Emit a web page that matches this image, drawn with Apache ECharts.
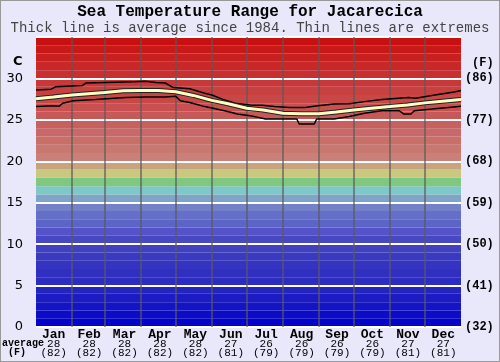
<!DOCTYPE html>
<html><head><meta charset="utf-8">
<script src="https://cdn.jsdelivr.net/npm/echarts@6/dist/echarts.min.js"></script>
<style>html,body{margin:0;padding:0;background:#e8e8fa}#c{width:500px;height:362px;box-sizing:border-box;border:1px solid #999}</style>
</head><body><div id="c"></div>
<script>
// ---- data ----
const months = ['Jan','Feb','Mar','Apr','May','Jun','Jul','Aug','Sep','Oct','Nov','Dec'];
const monthStartDays = [31,59,90,120,151,181,212,243,273,304,334];
const monthAvgC = [28,28,28,28,28,27,26,26,26,26,27,27];
const monthAvgF = [82,82,82,82,82,81,79,79,79,79,81,81];
const avgDays = [0,15,31,45,59,75,90,105,120,135,151,165,181,195,212,227,243,258,273,288,304,319,334,349,365];
const avgTemp = [27.55,27.75,28.0,28.15,28.3,28.5,28.55,28.55,28.4,27.95,27.35,26.95,26.4,26.2,25.8,25.74,25.74,25.94,26.2,26.4,26.6,26.8,27.05,27.25,27.45];
const maxDays = [0,13,17,40,43,68,85,94,103,111,118,132,145,151,160,171,184,194,205,218,231,242,256,269,282,297,320,326,340,359,365];
const maxTemp = [28.6,28.7,29.0,29.15,29.45,29.55,29.6,29.65,29.5,29.45,28.9,28.75,28.2,28.0,27.5,27.0,26.8,26.75,26.6,26.5,26.5,26.7,26.9,26.95,27.2,27.45,27.7,27.6,27.95,28.35,28.55];
const minDays = [0,15,20,23,32,51,77,94,111,120,124,132,145,162,173,184,191,197,224,226,239,241,256,269,282,297,312,316,322,325,340,354,365];
const minTemp = [26.6,26.7,26.65,27.0,27.3,27.45,27.7,27.75,27.75,27.85,27.3,27.1,26.6,26.1,25.7,25.5,25.3,25.1,25.1,24.5,24.5,25.1,25.1,25.4,25.8,26.1,26.1,25.7,25.7,26.1,26.3,26.5,26.65];
const yTicks = [0,5,10,15,20,25,30];

// ---- style palette (one colour per degree band, 0..35) ----
const bandColors = ['#0404c8','#0c0cc8','#1414c4','#1c1cc4','#2424c0','#2c2cc0','#3030c0','#3434c0','#3a3ac0','#4040c0',
 '#4848c4','#5454c8','#5c64c8','#6470c8','#7480c8','#80a4c8','#80c8c8','#80c880','#c8c880','#c8a47c',
 '#c88078','#c87870','#c87068','#c86868','#c86060','#c85858','#c85050','#c84848','#c84040','#c83838',
 '#c83030','#c82828','#c82020','#c81818','#c81010'];

const zip = (a,b)=>a.map((d,i)=>[d,b[i]]);
const bands = bandColors.map((c,i)=>[{yAxis:i,itemStyle:{color:c}},{yAxis:i+1}]);
const mono = '"Liberation Mono","DejaVu Sans Mono",monospace';

const chart = echarts.init(document.getElementById('c'));
chart.setOption({
  animation:false,
  backgroundColor:'#e8e8fa',
  title:[
    {text:'Sea Temperature Range for Jacarecica',left:'center',top:3,padding:0,textStyle:{fontFamily:mono,fontSize:16,fontWeight:'bold',color:'#000'}},
    {text:'Thick line is average since 1984. Thin lines are extremes',left:'center',top:20,padding:0,textStyle:{fontFamily:mono,fontSize:14,fontWeight:'normal',color:'#444'}}
  ],
  grid:{left:35,right:38,top:36,bottom:34},
  xAxis:[
    {type:'value',min:0,max:365,show:false},
    {type:'category',data:months,position:'bottom',boundaryGap:true,
     axisLine:{show:false},axisTick:{show:false},splitLine:{show:false},
     axisLabel:{margin:2,interval:0,
       formatter:(v,i)=>`{m|${v}}\n{c|${monthAvgC[i]}}\n{f|(${monthAvgF[i]})}`,
       rich:{m:{fontFamily:mono,fontSize:13,fontWeight:'bold',lineHeight:11,color:'#000'},
             c:{fontFamily:mono,fontSize:11,lineHeight:9,color:'#000'},
             f:{fontFamily:mono,fontSize:11,lineHeight:9,color:'#000'}}}}
  ],
  yAxis:[
    {type:'value',min:0,max:35,interval:5,z:3,position:'left',
     axisLine:{show:false},axisTick:{show:false},
     splitLine:{show:true,lineStyle:{color:'#ffffff',width:2}},
     axisLabel:{margin:13,fontFamily:'"DejaVu Sans",sans-serif',fontSize:13,color:'#000',
       formatter:v=>yTicks.includes(v)?String(v):''}},
    {type:'value',min:0,max:35,interval:5,position:'right',
     axisLine:{show:false},axisTick:{show:false},splitLine:{show:false},
     axisLabel:{margin:4,fontFamily:mono,fontSize:12,fontWeight:'bold',color:'#000',
       formatter:v=>yTicks.includes(v)?'('+Math.round(v*9/5+32)+')':''}}
  ],
  graphic:[
    {type:'text',left:12,top:54,style:{text:'C',font:'bold 13px "DejaVu Sans",sans-serif',fill:'#000'}},
    {type:'text',left:471,top:56,style:{text:'(F)',font:'bold 12px '+mono,fill:'#000'}},
    {type:'text',left:1,top:337,style:{text:'average',font:'bold 10px '+mono,fill:'#000'}},
    {type:'text',left:7,top:346,style:{text:'(F)',font:'bold 10px '+mono,fill:'#000'}}
  ],
  series:[
    {type:'line',data:[],z:1,silent:true,
     markArea:{silent:true,data:bands}},
    {type:'line',data:[],z:4,silent:true,
     markLine:{silent:true,symbol:'none',label:{show:false},
       lineStyle:{color:'rgba(90,90,90,0.85)',width:1.5,type:'solid'},
       data:monthStartDays.map(d=>({xAxis:d}))}},
    {type:'line',data:zip(maxDays,maxTemp),z:5,showSymbol:false,lineStyle:{color:'#000',width:1.5}},
    {type:'line',data:zip(minDays,minTemp),z:5,showSymbol:false,lineStyle:{color:'#000',width:1.5}},
    {type:'line',data:zip(avgDays,avgTemp),z:6,showSymbol:false,lineStyle:{color:'#222',width:5}},
    {type:'line',data:zip(avgDays,avgTemp),z:7,showSymbol:false,lineStyle:{color:'#ffffc4',width:3}}
  ]
});
</script></body></html>
